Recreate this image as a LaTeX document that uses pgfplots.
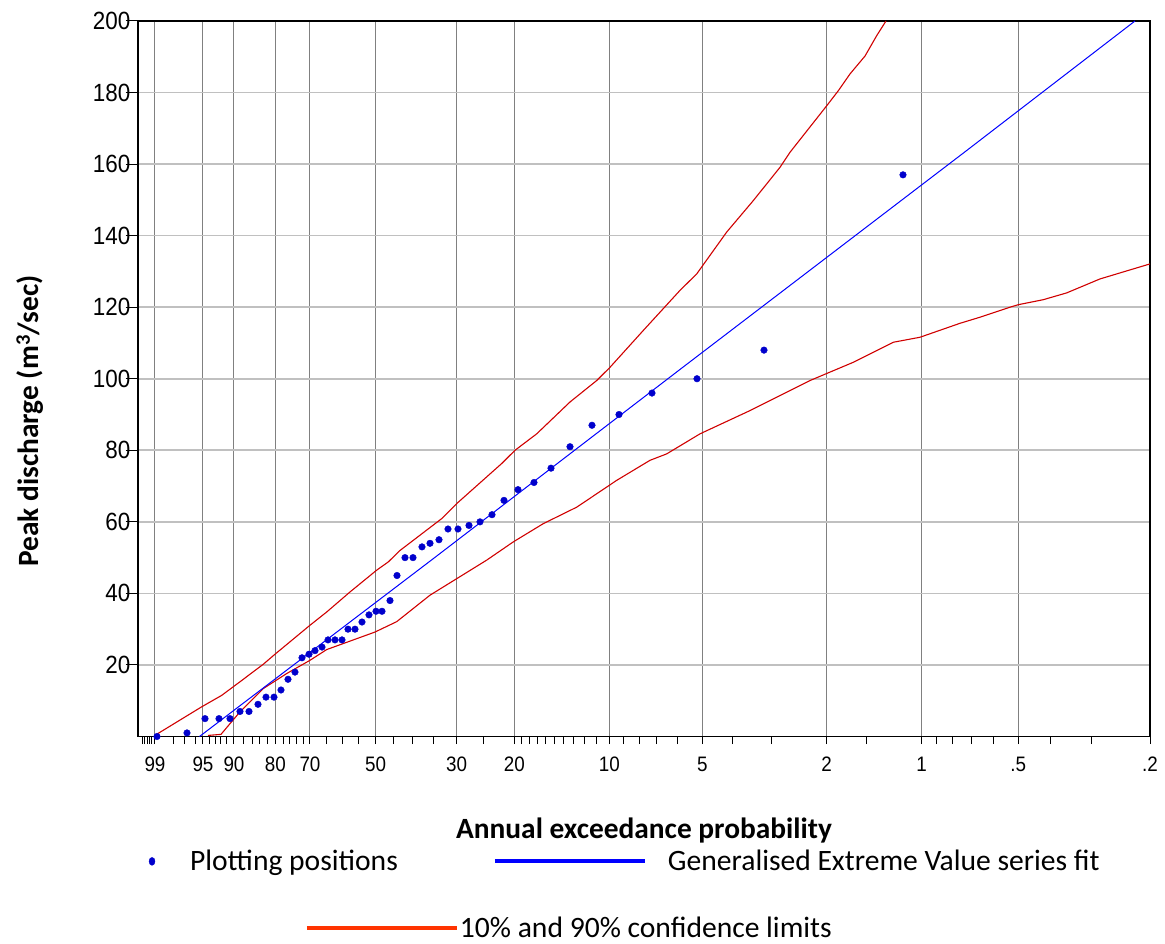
\documentclass[border=0pt]{standalone}
\usepackage{fontspec}
\setmainfont{Carlito}
\newfontfamily\tickfont[FakeStretch=0.9]{Liberation Sans}
\usepackage{pgfplots}
\pgfplotsset{compat=1.18}
\definecolor{ptblue}{HTML}{0000CC}
\definecolor{fitblue}{HTML}{0000FF}
\definecolor{cired}{HTML}{D00000}
\definecolor{legred}{HTML}{FF3300}
\definecolor{vgrid}{HTML}{808080}
\definecolor{hgrid}{HTML}{C0C0C0}
\begin{document}
\begin{tikzpicture}
\useasboundingbox (-138bp,-207.5bp) rectangle (1027bp,736.5bp);
\begin{axis}[
  x=1bp, y=3.5775bp,
  xmin=138, xmax=1150, ymin=0, ymax=200,
  clip=false,
  axis line style={black, line width=1.3bp},
  tick align=outside, tick pos=left,
  xtick={155,203,234,275.3,310,375.7,456.7,514.3,609.3,702.3,826.7,921.7,1018.3,1150},
  xticklabels={99,95,90,80,70,50,30,20,10,5,2,1,.5,.2},
  minor xtick={142.7,145,147.3,149.7,152,173.3,184.3,195.7,210,215.7,220.7,227,243.3,252.3,260,267.7,283.7,290,296.7,303.3,326.7,342.3,358.7,393.3,412.7,433.3,483.3,521.7,529.3,537.3,545.7,554.7,563.7,574,584.7,596.3,623.3,639.3,657,678,732.3,771.3,866,936.3,952.3,971,993,1050,1091.7},
  ytick={20,40,...,200},
  xtick style={black, line width=1bp, /pgfplots/major tick length=7.5bp, /pgfplots/minor tick length=7.5bp},
  ytick style={black, line width=1bp, /pgfplots/major tick length=12.5bp},
  xmajorgrids, ymajorgrids,
  x grid style={vgrid, line width=1bp},
  y grid style={hgrid, line width=1.6bp},
  /pgf/number format/assume math mode=true,
  xticklabel style={font=\fontsize{21}{23}\tickfont, yshift=-13bp},
  yticklabel style={font=\fontsize{25}{27}\tickfont},
  xlabel={Annual exceedance probability},
  xlabel style={at={(axis description cs:0.5,-0.1307)}, anchor=center, font=\fontsize{29.5}{32}\selectfont\bfseries},
  ylabel={Peak discharge (m\textsuperscript{3}/sec)},
  ylabel style={at={(axis description cs:-0.1067,0.441)}, anchor=center, font=\fontsize{29.5}{32}\selectfont\bfseries},
  legend columns=2,
  legend cell align=left,
  legend style={at={(axis description cs:0.0104,-0.1745)}, anchor=west, draw=none, fill=none, inner sep=0pt, outer sep=0pt, column sep=0pt, font=\fontsize{29.7}{32}\selectfont, nodes={inner sep=0pt}},
]
\addlegendimage{legend image code/.code={\path[draw=none,fill=none] (-3.5bp,0) -- (38bp,0); \fill[ptblue] (0,0) ellipse (3bp and 4bp);}}
\addlegendentry{Plotting positions}
\addlegendimage{legend image code/.code={\path[draw=none,fill=none] (-97bp,0) -- (173bp,0); \draw[fitblue, line width=4bp] (0,0) -- (150bp,0);}}
\addlegendentry{Generalised Extreme Value series fit}

% upper confidence limit
\addplot[cired, line width=1.1bp, forget plot] coordinates {
(156,0.5) (201.7,8.3) (221.7,11.5) (240,15.3) (263.3,20.2) (275,23) (310,31.1) (326.7,34.8) (350,40.4) (376.7,46.5) (388.3,48.8) (400,52) (441.7,60.9) (456.7,65.1) (501.7,76.3) (515,80) (536.7,84.6) (570,93.5) (596.7,99.5) (610,103.2) (643.3,113.5) (680,124.7) (696.7,129.3) (726.7,141) (753.3,149.8) (780,159.1) (790,163.3) (826.7,176.3) (838.3,180.5) (850,185.2) (865,190.2) (876.7,195.9) (886,200)
};
% lower confidence limit
\addplot[cired, line width=1.1bp, forget plot] coordinates {
(208,0.3) (221,0.6) (240,6.9) (263.3,13.4) (286.7,17.6) (310,21.3) (326.7,24.3) (375,29.2) (396.7,32.1) (430,39.5) (486.7,49.3) (513.3,54.4) (543.3,59.5) (576.7,64.1) (616.7,71.6) (650,77.2) (666.7,79) (700,84.6) (750,91.1) (800,98.1) (810,99.5) (853.3,104.6) (893.3,110.2) (920,111.6) (960,115.5) (980,117.2) (1010,120) (1018.3,120.7) (1043.3,122.1) (1066.7,124) (1100,127.9) (1150,132.1)
};
% GEV fit
\addplot[fitblue, line width=1bp, forget plot] coordinates {
(199.5,0) (432.3,49.5) (680,102.6) (966.7,163.8) (1135,200)
};
% plotting positions
\addplot[only marks, mark=*, mark size=3.3bp, ptblue, forget plot] coordinates {
(157,0) (187,1) (205,5) (219,5) (230,5) (240,7) (249,7) (258,9) (266,11) (274,11) (281,13) (288,16) (295,18) (302,22) (309,23) (315,24) (322,25) (328,27) (335,27) (342,27) (348,30) (355,30) (362,32) (369,34) (376,35) (382,35) (390,38) (397,45) (405,50) (413,50) (422,53) (430,54) (439,55) (448,58) (458,58) (469,59) (480,60) (492,62) (504,66) (518,69) (534,71) (551,75) (570,81) (592,87) (619,90) (652,96) (697,100) (764,108) (903,157)
};
\end{axis}
\begin{axis}[
  x=1bp, y=3.5775bp,
  xmin=138, xmax=1150, ymin=0, ymax=200,
  hide axis,
  legend cell align=left,
  legend style={at={(axis description cs:0.165,-0.2683)}, anchor=west, draw=none, fill=none, inner sep=0pt, outer sep=0pt, column sep=0pt, font=\fontsize{29.7}{32}\selectfont, nodes={inner sep=0pt}},
]
\addlegendimage{legend image code/.code={\draw[legred, line width=4bp] (0,0) -- (150bp,0); \path[draw=none,fill=none] (0,0) -- (153bp,0);}}
\addlegendentry{10\% and 90\% confidence limits}
\end{axis}
\end{tikzpicture}
\end{document}
